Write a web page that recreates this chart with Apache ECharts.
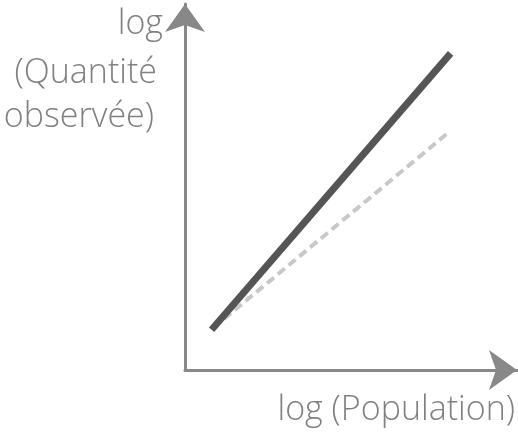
<!DOCTYPE html>
<html><head><meta charset="utf-8">
<script src="https://cdn.jsdelivr.net/npm/echarts@6/dist/echarts.min.js"></script>
<style>html,body{margin:0;padding:0;background:#fff}#c{width:518px;height:434px}</style>
</head><body><div id="c"></div>
<script>
// Values (arbitrary log units, axis 0..10)
const solidX = [0.8, 8.0];
const solidY = [1.1, 8.65];
const dashedX = [0.85, 7.95];
const dashedY = [1.15, 6.5];
const yLabelLines = ['log', '(Quantité', 'observée)'];
const xLabel = 'log (Population)';

const chart = echarts.init(document.getElementById('c'), null, {renderer: 'canvas'});
const font = '300 34px "Open Sans", sans-serif';
const txtColor = '#808080';
function label(text, xRight, yMid) {
  return {type: 'text', x: xRight, y: yMid,
    style: {text: text, font: font, fill: txtColor, align: 'right', verticalAlign: 'middle'}};
}
chart.setOption({
  animation: false,
  grid: {left: 185, right: 1, top: 4, bottom: 64},
  xAxis: {
    type: 'value', min: 0, max: 10,
    axisLine: {show: true, symbol: ['none', 'arrow'], symbolSize: [30, 28],
      lineStyle: {color: '#888', width: 3}},
    axisTick: {show: false}, axisLabel: {show: false}, splitLine: {show: false}
  },
  yAxis: {
    type: 'value', min: 0, max: 10,
    axisLine: {show: true, onZero: false, symbol: ['none', 'arrow'], symbolSize: [30, 28],
      lineStyle: {color: '#888', width: 3}},
    axisTick: {show: false}, axisLabel: {show: false}, splitLine: {show: false}
  },
  series: [
    {type: 'line', data: dashedX.map((x, i) => [x, dashedY[i]]), symbol: 'none',
      lineStyle: {color: '#c8c8c8', width: 4, type: [9, 5]}, z: 2},
    {type: 'line', data: solidX.map((x, i) => [x, solidY[i]]), symbol: 'none',
      lineStyle: {color: '#555555', width: 7}, z: 3}
  ],
  graphic: [
    label(yLabelLines[0], 163, 24),
    label(yLabelLines[1], 157, 73),
    label(yLabelLines[2], 154, 117),
    label(xLabel, 515, 410)
  ]
});
</script></body></html>
